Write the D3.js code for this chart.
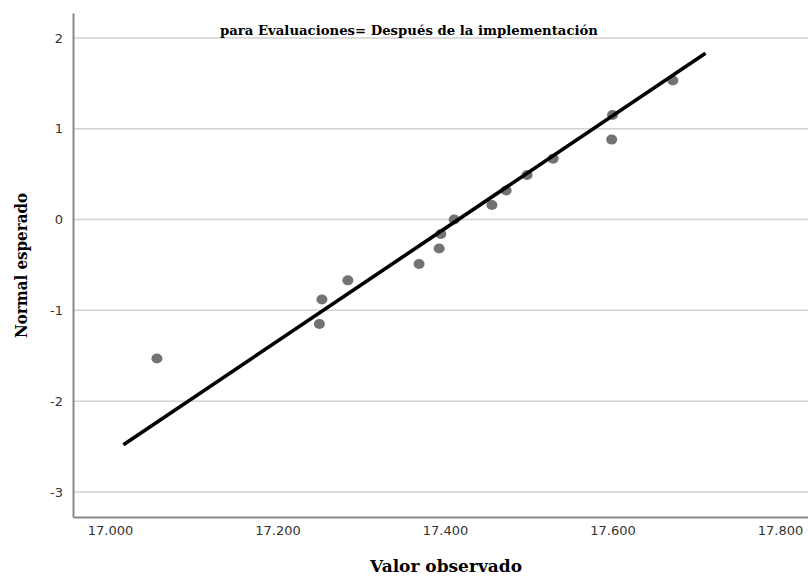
<!DOCTYPE html>
<html>
<head>
    <meta charset="utf-8">
    <script src="https://cdn.jsdelivr.net/npm/d3@7"></script>
    <style>
        body {
            margin: 0px;
            padding: 0px;
            background: #ffffff;
        }

        .tick-label {
            font-family: 'DejaVu Sans', sans-serif;
            font-size: 13px;
            fill: #333333;
        }

        .chart-title {
            font-family: 'DejaVu Serif', serif;
            font-weight: bold;
            fill: #000000;
        }
    </style>
    <title>Gráfico Q-Q normal</title>
</head>

<body>
    <div id="chart"></div>

    <script>
        var observed = [17056, 17250, 17253, 17284, 17369, 17393, 17395, 17411,
                        17456, 17473, 17498, 17529, 17599, 17600, 17672];
        var expected = [-1.53, -1.15, -0.88, -0.67, -0.49, -0.32, -0.16, 0.00,
                        0.16, 0.32, 0.49, 0.67, 0.88, 1.15, 1.53];

        // extremos de la recta de referencia
        var lineX = [17016, 17711];
        var lineY = [-2.48, 1.83];

        var xTicks = [17000, 17200, 17400, 17600, 17800];
        var yTicks = [-3, -2, -1, 0, 1, 2];

        var title = "para Evaluaciones= Después de la implementación";
        var xTitle = "Valor observado";
        var yTitle = "Normal esperado";

        var width = 808, height = 577;

        var svg = d3.select("#chart").append("svg")
            .attr("width", width)
            .attr("height", height);

        var x = d3.scaleLinear()
            .domain([16955.8, 17833.4])
            .range([73, 808]);

        var y = d3.scaleLinear()
            .domain([-3.276, 2.274])
            .range([517, 13]);

        // formato español: punto como separador de miles, guion como signo menos
        var es = d3.formatLocale({ decimal: ",", thousands: ".", grouping: [3], currency: ["", " €"], minus: "-" });
        var fmt = es.format(",d");

        //gridlines
        svg.append("g")
            .selectAll("line")
            .data(yTicks)
            .enter().append("line")
            .attr("x1", x.range()[0])
            .attr("x2", x.range()[1])
            .attr("y1", function (d) { return y(d); })
            .attr("y2", function (d) { return y(d); })
            .attr("stroke", "#d2d2d2")
            .attr("stroke-width", 1.5);

        //y axis
        var yAxis = svg.append("g")
            .attr("transform", "translate(73,0)")
            .call(d3.axisLeft(y).tickValues(yTicks).tickSize(0).tickPadding(10).tickFormat(es.format("d")));
        yAxis.select(".domain").attr("stroke", "#8a8a8a").attr("stroke-width", 2);
        yAxis.selectAll("text").attr("class", "tick-label").attr("font-family", null).attr("font-size", null);

        //x axis
        var xAxis = svg.append("g")
            .attr("transform", "translate(0,517)")
            .call(d3.axisBottom(x).tickValues(xTicks).tickSize(0).tickPadding(9).tickFormat(fmt));
        xAxis.select(".domain").attr("stroke", "#8a8a8a").attr("stroke-width", 2);
        xAxis.selectAll("text").attr("class", "tick-label").attr("font-family", null).attr("font-size", null);

        //points
        svg.append("g")
            .selectAll("ellipse")
            .data(observed)
            .enter().append("ellipse")
            .attr("cx", function (d) { return x(d); })
            .attr("cy", function (d, i) { return y(expected[i]); })
            .attr("rx", 5.5)
            .attr("ry", 5)
            .attr("fill", "#737373");

        //reference line
        svg.append("line")
            .attr("x1", x(lineX[0]))
            .attr("y1", y(lineY[0]))
            .attr("x2", x(lineX[1]))
            .attr("y2", y(lineY[1]))
            .attr("stroke", "#000000")
            .attr("stroke-width", 3.6);

        //titles
        svg.append("text")
            .attr("class", "chart-title")
            .attr("x", 409)
            .attr("y", 35)
            .attr("text-anchor", "middle")
            .attr("font-size", 13.5)
            .attr("textLength", 378)
            .attr("lengthAdjust", "spacingAndGlyphs")
            .text(title);

        svg.append("text")
            .attr("class", "chart-title")
            .attr("x", 446)
            .attr("y", 572)
            .attr("text-anchor", "middle")
            .attr("font-size", 16)
            .attr("textLength", 152)
            .attr("lengthAdjust", "spacingAndGlyphs")
            .text(xTitle);

        svg.append("text")
            .attr("class", "chart-title")
            .attr("transform", "translate(27,265.5) rotate(-90)")
            .attr("text-anchor", "middle")
            .attr("font-size", 16)
            .attr("textLength", 145)
            .attr("lengthAdjust", "spacingAndGlyphs")
            .text(yTitle);
    </script>
</body>
</html>
